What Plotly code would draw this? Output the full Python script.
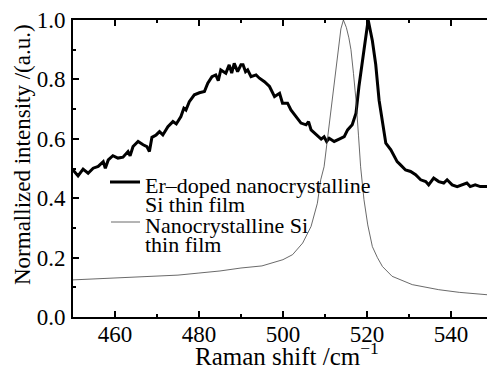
import plotly.graph_objects as go

# Er-doped nanocrystalline Si thin film (thick line)
er_x = [450.0, 451.2, 452.4, 453.6, 454.8, 456.0, 457.2, 457.7, 458.4, 459.5, 460.7, 461.9,
        463.1, 463.6, 464.3, 465.5, 466.7, 467.6, 468.2, 468.8, 469.8, 470.6, 471.4, 472.6,
        473.8, 474.6, 475.7, 476.4, 476.9, 477.7, 478.9, 480.1, 481.3, 482.1, 483.1, 484.0,
        484.6, 485.2, 486.4, 487.2, 487.8, 488.4, 489.2, 490.0, 490.5, 491.1, 491.6, 492.4,
        493.6, 494.4, 495.6, 496.8, 498.0, 499.2, 499.9, 501.1, 501.9, 503.1, 504.3, 505.5,
        506.1, 506.7, 507.9, 509.1, 509.8, 510.4, 511.0, 512.2, 513.4, 514.6, 515.4, 516.5,
        517.4, 518.1, 519.3, 520.3, 521.3, 522.1, 522.9, 523.7, 524.5, 525.7, 526.4, 527.2,
        528.0, 529.2, 530.4, 531.6, 532.8, 534.0, 534.7, 535.9, 537.1, 538.3, 539.1, 540.3,
        541.5, 542.6, 543.8, 544.6, 545.8, 547.0, 548.6]
er_y = [0.495, 0.475, 0.498, 0.484, 0.501, 0.507, 0.523, 0.501, 0.529, 0.543, 0.535, 0.538,
        0.557, 0.543, 0.574, 0.591, 0.580, 0.574, 0.557, 0.605, 0.613, 0.624, 0.613, 0.641,
        0.658, 0.650, 0.675, 0.703, 0.697, 0.725, 0.748, 0.755, 0.759, 0.787, 0.809, 0.815,
        0.796, 0.832, 0.821, 0.849, 0.821, 0.854, 0.826, 0.849, 0.849, 0.826, 0.832, 0.809,
        0.815, 0.804, 0.792, 0.776, 0.742, 0.753, 0.720, 0.720, 0.697, 0.675, 0.653, 0.647,
        0.658, 0.630, 0.613, 0.599, 0.607, 0.591, 0.602, 0.591, 0.599, 0.607, 0.630, 0.647,
        0.686, 0.776, 0.899, 1.000, 0.930, 0.850, 0.730, 0.664, 0.585, 0.563, 0.546, 0.523,
        0.512, 0.495, 0.490, 0.479, 0.462, 0.456, 0.445, 0.468, 0.456, 0.451, 0.462, 0.445,
        0.439, 0.445, 0.451, 0.439, 0.445, 0.439, 0.439]

# Nanocrystalline Si thin film (thin line)
nc_x = [450.0, 455.0, 460.0, 465.0, 470.0, 475.0, 480.0, 485.0, 490.0, 495.0, 500.0, 502.3,
        504.7, 506.7, 508.2, 509.0, 509.8, 510.8, 511.8, 512.5, 513.2, 513.8, 514.4, 515.1,
        515.7, 516.2, 516.8, 517.4, 518.0, 518.5, 519.3, 520.2, 521.3, 522.5, 523.7, 526.0,
        530.8, 537.1, 542.0, 548.6]
nc_y = [0.125, 0.128, 0.131, 0.134, 0.138, 0.141, 0.148, 0.155, 0.165, 0.172, 0.193, 0.210,
        0.249, 0.305, 0.383, 0.462, 0.506, 0.620, 0.730, 0.820, 0.900, 0.970, 1.000, 0.975,
        0.940, 0.900, 0.820, 0.730, 0.610, 0.506, 0.395, 0.310, 0.237, 0.200, 0.170, 0.137,
        0.109, 0.092, 0.083, 0.075]

x_ticks = [460, 480, 500, 520, 540]
y_ticks = [0.0, 0.2, 0.4, 0.6, 0.8, 1.0]
y_ticktext = ["0.0", "0.2", "0.4", "0.6", "0.8", "1.0"]

series_names = ["Er\u2013doped nanocrystalline", "Si thin film", "Nanocrystalline Si", "thin film"]
x_title = "Raman shift /cm<sup>\u22121</sup>"
y_title = "Normallized intensity /(a.u.)"

FONT = "Liberation Serif"
W, H = 487, 365
ML, MT, MB = 73, 20, 48
PH = H - MT - MB
PW = W - ML


def px_x(p):
    return (p - ML) / PW


def px_y(p):
    return (H - MB - p) / PH


fig = go.Figure()
fig.add_trace(go.Scatter(x=er_x, y=er_y, mode="lines",
                         name=series_names[0] + " " + series_names[1],
                         line=dict(color="black", width=3), showlegend=False))
fig.add_trace(go.Scatter(x=nc_x, y=nc_y, mode="lines",
                         name=series_names[2] + " " + series_names[3],
                         line=dict(color="#444444", width=0.8), showlegend=False))

axis_common = dict(
    showgrid=False, zeroline=False, showline=True, linecolor="black", linewidth=2,
    ticks="inside", ticklen=6, tickwidth=2, tickcolor="black", automargin=False,
    tickfont=dict(family=FONT, size=23, color="black"),
)

fig.update_xaxes(
    range=[450, 548.6], tickvals=x_ticks, mirror="ticks", ticklabelstandoff=-5,
    minor=dict(dtick=10, tick0=450, ticks="inside", ticklen=3, tickwidth=1.5, tickcolor="black"),
    **axis_common,
)
fig.update_yaxes(
    range=[0, 1.0], tickvals=y_ticks, ticktext=y_ticktext, mirror=False, ticklabelstandoff=1,
    minor=dict(dtick=0.1, tick0=0, ticks="inside", ticklen=3, tickwidth=1.5, tickcolor="black"),
    **axis_common,
)

annotations = [
    dict(text=x_title, xref="paper", yref="paper", x=px_x(287), y=px_y(354),
         xanchor="center", yanchor="middle", showarrow=False,
         font=dict(family=FONT, size=25, color="black")),
    dict(text=y_title, xref="paper", yref="paper", x=px_x(22), y=px_y(155),
         xanchor="center", yanchor="middle", showarrow=False, textangle=-90,
         font=dict(family=FONT, size=23, color="black")),
]
legend_text_y = [185, 204, 225, 244]
for name, ty in zip(series_names, legend_text_y):
    annotations.append(dict(text=name, xref="paper", yref="paper", x=px_x(143), y=px_y(ty),
                            xanchor="left", yanchor="middle", showarrow=False,
                            font=dict(family=FONT, size=22, color="black")))

shapes = [
    dict(type="line", xref="paper", yref="paper", x0=px_x(110), x1=px_x(140),
         y0=px_y(182), y1=px_y(182), line=dict(color="black", width=3)),
    dict(type="line", xref="paper", yref="paper", x0=px_x(111), x1=px_x(140),
         y0=px_y(222), y1=px_y(222), line=dict(color="#444444", width=0.8)),
]

fig.update_layout(
    width=W, height=H,
    margin=dict(l=ML, r=0, t=MT, b=MB),
    paper_bgcolor="white", plot_bgcolor="white",
    font=dict(family=FONT, color="black"),
    showlegend=False,
    annotations=annotations,
    shapes=shapes,
)

fig.write_html("out.html", config={"displayModeBar": False},
               post_script="document.body.style.margin='0';")
